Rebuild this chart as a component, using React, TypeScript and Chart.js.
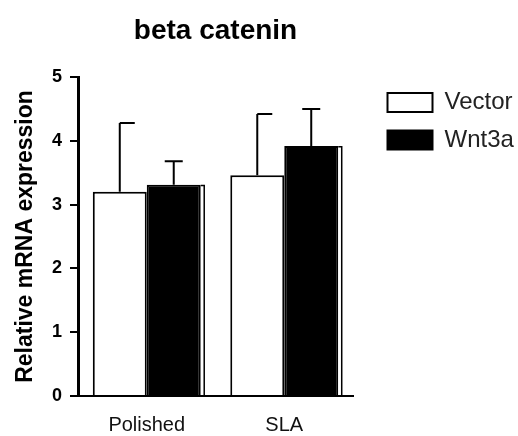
import React, { useEffect, useRef } from 'react';
import { Chart, registerables } from 'chart.js';

Chart.register(...registerables);

const chartTitle = 'beta catenin';
const yAxisTitle = 'Relative mRNA expression';
const categories = ['Polished', 'SLA'];
const seriesNames = ['Vector', 'Wnt3a'];
const vectorMeans = [3.2, 3.46];
const vectorErrors = [1.08, 0.96];
const wnt3aMeans = [3.31, 3.92];
const wnt3aErrors = [0.37, 0.58];
const yTicks = [0, 1, 2, 3, 4, 5];

const errorsBySeries = [vectorErrors, wnt3aErrors];
const FONT = "'Liberation Sans', Arial, Helvetica, sans-serif";

const errorBarPlugin = {
  id: 'errorBars',
  afterDatasetsDraw(chart: any) {
    const ctx = chart.ctx;
    const yScale = chart.scales.y;
    chart.data.datasets.forEach((ds: any, di: number) => {
      const meta = chart.getDatasetMeta(di);
      const errs = errorsBySeries[di];
      meta.data.forEach((bar: any, i: number) => {
        const { x, y, width, base } = bar.getProps(['x', 'y', 'width', 'base'], true);
        const yErr = yScale.getPixelForValue(ds.data[i] + errs[i]);
        ctx.save();
        ctx.strokeStyle = '#000';
        ctx.lineWidth = 2;
        if (di === 1) {
          const xr = x + width / 2;
          ctx.lineWidth = 1.5;
          ctx.beginPath();
          ctx.moveTo(xr, y + 0.75);
          ctx.lineTo(xr + 3.5, y + 0.75);
          ctx.lineTo(xr + 3.5, base);
          ctx.stroke();
          ctx.lineWidth = 2;
        }
        const capL = di === 0 ? 0 : -9;
        const capR = di === 0 ? 15 : 9;
        ctx.beginPath();
        ctx.moveTo(x, y);
        ctx.lineTo(x, yErr);
        ctx.moveTo(x + capL, yErr);
        ctx.lineTo(x + capR, yErr);
        ctx.stroke();
        ctx.restore();
      });
    });
  },
};

export default function App() {
  const ref = useRef<HTMLCanvasElement>(null);
  useEffect(() => {
    const chart = new Chart(ref.current as HTMLCanvasElement, {
      type: 'bar',
      data: {
        labels: categories,
        datasets: [
          {
            label: seriesNames[0],
            data: vectorMeans,
            backgroundColor: '#ffffff',
            borderColor: '#000000',
            borderWidth: 2,
          },
          {
            label: seriesNames[1],
            data: wnt3aMeans,
            backgroundColor: '#000000',
            borderColor: '#000000',
            borderWidth: 2,
          },
        ],
      },
      options: {
        animation: false,
        responsive: true,
        maintainAspectRatio: false,
        layout: { padding: { left: 0, right: 4, top: 0, bottom: 0 } },
        datasets: { bar: { categoryPercentage: 0.785, barPercentage: 1 } },
        plugins: {
          title: { display: false },
          tooltip: { enabled: false },
          legend: {
            position: 'right',
            align: 'start',
            fullSize: false,
            maxWidth: 140,
            labels: {
              boxWidth: 45,
              boxHeight: 19,
              padding: 13.5,
              color: '#222',
              font: { family: FONT, size: 24 },
            },
          },
        },
        scales: {
          x: {
            type: 'category',
            position: 'bottom',
            grid: { display: false, drawTicks: false },
            border: { display: true, color: '#000', width: 2 },
            ticks: { color: '#111', padding: 19, maxRotation: 0, font: { family: FONT, size: 20, lineHeight: 1 } },
            afterFit: (s: any) => {
              s.height = 40;
            },
          },
          xTop: {
            type: 'category',
            position: 'top',
            labels: categories,
            grid: { display: false, drawTicks: false },
            border: { display: false },
            ticks: { display: false },
            title: {
              display: true,
              text: chartTitle,
              color: '#000',
              font: { family: FONT, size: 28, weight: 'bold' },
              padding: { top: 14, bottom: 29.4 },
            },
            afterFit: (s: any) => {
              s.height = 77;
            },
          },
          y: {
            min: 0,
            max: 5,
            afterBuildTicks: (s: any) => {
              s.ticks = yTicks.map((v) => ({ value: v }));
            },
            grid: {
              display: true,
              drawOnChartArea: false,
              drawTicks: true,
              tickLength: 8,
              lineWidth: 2,
              color: '#000',
            },
            border: { display: true, color: '#000', width: 3 },
            ticks: { color: '#000', padding: 8, font: { family: FONT, size: 18, weight: 'bold' } },
            title: {
              display: true,
              text: yAxisTitle,
              color: '#000',
              font: { family: FONT, size: 23, weight: 'bold' },
              padding: { top: 12, bottom: 12 },
            },
            afterFit: (s: any) => {
              s.width = 78;
            },
          },
          yGap: {
            position: 'right',
            display: true,
            grid: { display: false, drawTicks: false },
            border: { display: false },
            ticks: { display: false },
            afterFit: (s: any) => {
              s.width = 21;
            },
          },
        },
      } as any,
      plugins: [errorBarPlugin],
    });
    return () => chart.destroy();
  }, []);
  return (
    <div style={{ position: 'absolute', left: 0, top: 0, width: 518, height: 436, background: '#fff' }}>
      <canvas ref={ref} />
    </div>
  );
}
